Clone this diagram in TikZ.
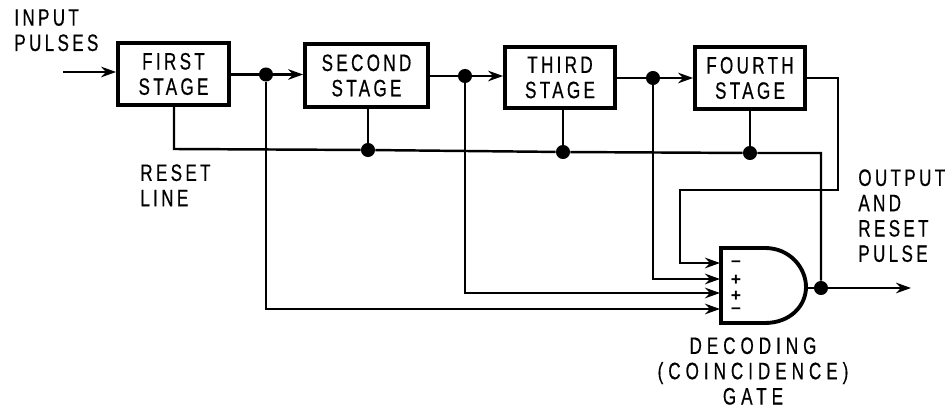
\documentclass[tikz,border=0pt]{standalone}
\usepackage{fontspec}
\setmainfont{Liberation Sans}
\newfontfamily\stagefont[LetterSpace=14,FakeStretch=0.72,FakeBold=0.5]{Liberation Sans}
\newfontfamily\gatefont[LetterSpace=21,FakeStretch=0.72,FakeBold=0.5]{Liberation Sans}
\usetikzlibrary{arrows.meta}
\tikzset{
  labeltext/.style={inner sep=0pt,align=left,font=\stagefont\fontsize{13.5}{14.4}\selectfont},
  gatetext/.style={inner sep=0pt,align=center,font=\gatefont\fontsize{13.5}{14.4}\selectfont},
  stagebox/.style={draw,line width=2.2pt,inner sep=0pt,align=center,font=\stagefont\fontsize{13.5}{14.4}\selectfont},
  wire/.style={line width=1.4pt},
  arrowwire/.style={line width=1.4pt,-{Stealth[length=8.5pt,width=6pt]}},
  dotnode/.style={circle,fill,inner sep=0pt,minimum size=8pt},
  signtext/.style={inner sep=0pt,font=\bfseries\fontsize{10}{11}\selectfont}
}
\begin{document}
\begin{tikzpicture}[x=0.02cm,y=-0.02cm]
    \useasboundingbox (0,0) rectangle (948,411);
    % stages
    \node[stagebox,minimum width=2.22cm,minimum height=1.24cm] (S1) at (173.5,74) {FIRST\\STAGE};
    \node[stagebox,minimum width=2.46cm,minimum height=1.26cm] (S2) at (366.5,75.5) {SECOND\\STAGE};
    \node[stagebox,minimum width=2.2cm,minimum height=1.22cm] (S3) at (560,77.5) {THIRD\\STAGE};
    \node[stagebox,minimum width=2.2cm,minimum height=1.24cm] (S4) at (750,78) {FOURTH\\STAGE};
    % gate
    \coordinate (Gtop) at (721,248);
    \coordinate (Gbot) at (721,323);
    \draw[line width=2.2pt] (Gtop)--(765,248) .. controls (790,248) and (806,268) .. (806,287)
      .. controls (806,306) and (790,323) .. (765,323)--(Gbot)--cycle;
    \coordinate (I4) at (720,263);
    \coordinate (I3) at (720,279);
    \coordinate (I2) at (720,293);
    \coordinate (I1) at (720,309);
    \node[signtext] (M1) at (736,264) {--};
    \node[signtext] (P1) at (736,280) {+};
    \node[signtext] (P2) at (736,296) {+};
    \node[signtext] (M2) at (736,311) {--};
    % junctions
    \node[dotnode] (J1) at (266,74.5) {};
    \node[dotnode] (J2) at (465,76) {};
    \node[dotnode] (J3) at (653,78) {};
    \node[dotnode] (R2) at (368,150) {};
    \node[dotnode] (R3) at (563,152) {};
    \node[dotnode] (R4) at (750,153) {};
    \node[dotnode] (Out) at (821,288) {};
    \coordinate (In) at (63,72);
    \coordinate (End) at (911,288);
    \coordinate (R1) at (174,149);
    \coordinate (RE) at (821,153);
    \coordinate (F1) at (838,190);
    \coordinate (F2) at (680,190);
    % signal line
    \draw[arrowwire] (In)--(In-|S1.west);
    \draw[wire] (S1.east|-J1)--(J1);
    \draw[arrowwire] (J1)--(J1-|S2.west);
    \draw[wire] (S2.east|-J2)--(J2);
    \draw[arrowwire] (J2)--(J2-|S3.west);
    \draw[wire] (S3.east|-J3)--(J3);
    \draw[arrowwire] (J3)--(J3-|S4.west);
    % reset line
    \draw[wire] (S1.south-|R1)--(R1)--(R2)--(R3)--(R4)--(RE)--(Out);
    \draw[wire] (S2.south-|R2)--(R2);
    \draw[wire] (S3.south-|R3)--(R3);
    \draw[wire] (S4.south-|R4)--(R4);
    % gate inputs
    \draw[arrowwire] (J1)|-(I1);
    \draw[arrowwire] (J2)|-(I2);
    \draw[arrowwire] (J3)|-(I3);
    \draw[arrowwire] (S4.east|-J3)-|(F1)--(F2)|-(I4);
    \draw[wire] (806,288)--(Out);
    \draw[arrowwire] (Out)--(End);
    % labels
    \node[labeltext,anchor=north west] (LIn) at (14,9) {INPUT\\PULSES};
    \node[labeltext,anchor=north west] (LRe) at (140,164) {RESET\\LINE};
    \node[labeltext,anchor=north west] (LOut) at (858,169) {OUTPUT\\AND\\RESET\\PULSE};
    \node[gatetext,anchor=north] (LGate) at (753,337) {DECODING\\(COINCIDENCE)\\GATE};
\end{tikzpicture}
\end{document}
